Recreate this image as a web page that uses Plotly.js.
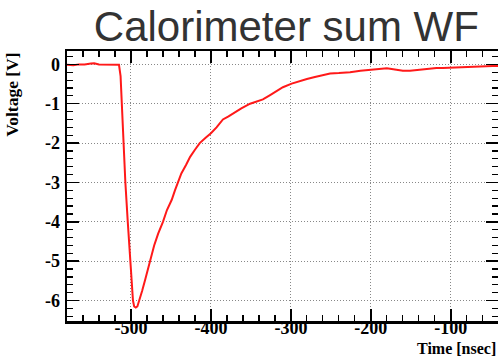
<!DOCTYPE html>
<html>
<head>
<meta charset="utf-8">
<script src="https://cdn.plot.ly/plotly-3.0.1.min.js"></script>
<style>html,body{margin:0;padding:0;background:#fff;}#chart{width:498px;height:357px;}</style>
</head>
<body>
<div id="chart"></div>
<script>
const timeNs = [-580,-572,-565,-558,-550,-546,-540,-532,-525,-518,-515,
  -513,-511,-509.6,-508,-507,-504,-501,-499,-497.5,-496,-494,-492,-489.6,-486,-482,-476,-471,-466,-460,-455,-449,-445,-441,-437,-431,-426,-420,-414,-407,-400,-393,-385,-378,-372,-362,-351,-343,-335,-326,-318,-310,-299,-290,-280,-270,-260,-251,-240,-226,-213,-200,-190,-180,-174,-168,-160,-151,-143,-135,-125,-118,-110,-100,-90,-80,-70,-63,-55,-48,-40];
const voltageV = [-0.01,-0.02,0.0,0.0,0.02,0.03,0.0,0.0,0.0,0.0,-0.01,
  -0.3,-1.2,-2.0,-2.7,-3.0,-4.0,-5.0,-5.7,-6.0,-6.15,-6.18,-6.15,-6.0,-5.75,-5.45,-5.0,-4.6,-4.3,-4.0,-3.7,-3.44,-3.2,-3.0,-2.77,-2.55,-2.35,-2.17,-2.0,-1.87,-1.75,-1.6,-1.4,-1.32,-1.24,-1.12,-1.0,-0.95,-0.89,-0.78,-0.67,-0.58,-0.49,-0.43,-0.37,-0.32,-0.27,-0.23,-0.22,-0.2,-0.16,-0.13,-0.12,-0.1,-0.12,-0.14,-0.16,-0.16,-0.14,-0.12,-0.1,-0.09,-0.09,-0.08,-0.07,-0.07,-0.06,-0.06,-0.05,-0.04,-0.04];
const xTicks = [-500,-400,-300,-200,-100];
const yTicks = [0,-1,-2,-3,-4,-5,-6];
const titleText = "Calorimeter sum WF";
const xLabel = "Time [nsec]";
const yLabel = "Voltage [V]";

const tickFont = {family: "Liberation Serif", size: 18, color: "#000", weight: "bold"};
const axisCommon = {
  showline: true, linecolor: "#000", linewidth: 2.5, mirror: "allticks",
  ticks: "inside", ticklen: 12, tickwidth: 1.5, tickcolor: "#000",
  showgrid: true, gridcolor: "#888", griddash: "1px,2px", gridwidth: 1,
  zeroline: false, tickfont: tickFont
};
const layout = {
  width: 498, height: 357,
  margin: {l: 67, r: 0, t: 51, b: 36, pad: 0},
  paper_bgcolor: "#fff", plot_bgcolor: "#fff",
  showlegend: false,
  title: {text: titleText, font: {family: "Liberation Sans", size: 42, color: "#333"},
    xref: "container", x: 0.575, xanchor: "center", yref: "container", y: 0.925, yanchor: "middle"},
  xaxis: Object.assign({}, axisCommon, {
    range: [-580, -41], tickmode: "array", tickvals: xTicks, ticktext: xTicks.map(v => "<b>" + v + "</b>"),
    minor: {dtick: 20, tick0: 0, ticks: "inside", ticklen: 6, tickwidth: 1.2, tickcolor: "#000", showgrid: false},
    ticklabelstandoff: -11
  }),
  yaxis: Object.assign({}, axisCommon, {
    range: [-6.52, 0.34], tickmode: "array", tickvals: yTicks, ticktext: yTicks.map(v => "<b>" + v + "</b>"),
    minor: {dtick: 0.2, tick0: 0, ticks: "inside", ticklen: 6, tickwidth: 1.2, tickcolor: "#000", showgrid: false},
    ticklabelstandoff: 1
  }),
  annotations: [
    {text: "<b>" + xLabel + "</b>", xref: "paper", yref: "paper", x: 1, xanchor: "right", y: -0.103, yanchor: "middle",
     showarrow: false, font: {family: "Liberation Serif", size: 16, color: "#000"}},
    {text: "<b>" + yLabel + "</b>", xref: "paper", yref: "paper", x: -0.128, xanchor: "center", y: 1.0, yanchor: "top",
     textangle: -90, showarrow: false, font: {family: "Liberation Serif", size: 17.5, color: "#000"}}
  ]
};
const trace = {x: timeNs, y: voltageV, type: "scatter", mode: "lines",
  line: {color: "rgb(255,25,25)", width: 2}, hoverinfo: "none"};
Plotly.newPlot("chart", [trace], layout, {staticPlot: true, displayModeBar: false});
</script>
</body>
</html>
